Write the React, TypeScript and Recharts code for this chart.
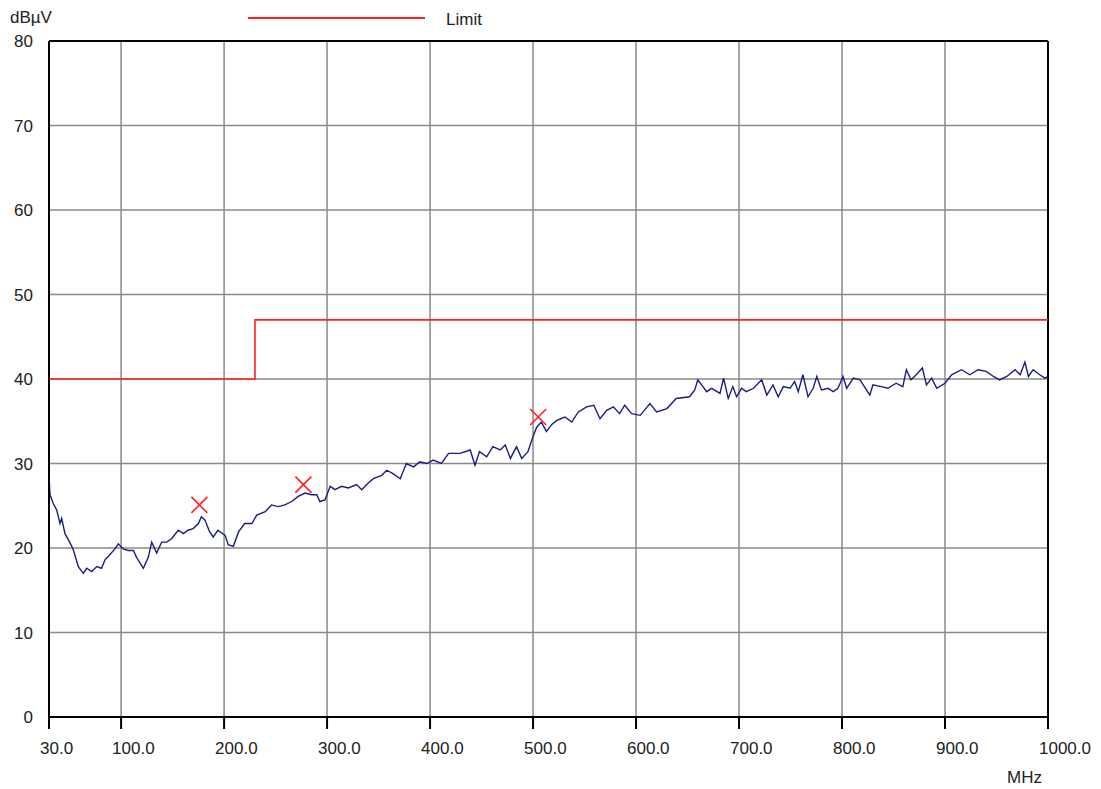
import {
  ComposedChart, Line, Scatter, XAxis, YAxis, CartesianGrid, ReferenceLine,
} from 'recharts'

// measured trace (MHz / dBµV)
const freqs = [
  30, 31, 34, 37.5, 40.7, 42.3, 45.5, 50.4, 53.6, 58.5, 63.3, 66.6, 71.5, 76.3, 81, 84.4, 89, 94, 97.3, 102,
  107, 112, 115, 121.6, 126.4, 129.7, 134.6, 139.4, 144.3, 149, 155.5, 160.4, 165, 170, 175, 178, 181.5, 186, 189.5, 194,
  201, 204, 209, 214, 220, 227, 231.7, 240, 246, 252.6, 259, 265.6, 272, 278.5, 285, 290, 293, 298, 303, 307.7,
  314, 320.6, 328.7, 333.6, 340, 345, 353, 358, 364, 371, 377, 384, 390, 397, 403, 411, 418, 429, 439, 443.6,
  448, 455, 461, 468, 473, 478, 484, 489, 495, 500, 503.5, 508, 513, 518, 523, 531, 537.5, 544, 552, 559,
  565, 571.5, 578, 584, 589, 595.7, 604, 613.5, 620, 630, 639, 652, 657, 660, 665, 668.5, 673.5, 681.5, 685, 689.5,
  694, 697.6, 702.5, 707, 714, 722, 727, 733, 738, 743, 749.5, 754, 757.5, 762, 767, 772, 775.5, 780, 786.5, 791.5,
  796, 801, 804.5, 811, 817.5, 827, 830, 838, 844.5, 852.5, 859, 862.5, 867, 872, 878, 882, 887, 892, 900, 906.4,
  916, 924, 932, 940, 947, 953, 960, 968, 973, 977.6, 981, 985.6, 992, 997, 1000,
]
const levels = [
  28.4, 26.3, 25.3, 24.5, 22.9, 23.5, 21.7, 20.6, 19.8, 17.8, 17.0, 17.6, 17.2, 17.8, 17.6, 18.6, 19.2, 19.9, 20.5, 19.9,
  19.7, 19.7, 18.9, 17.6, 18.9, 20.7, 19.4, 20.7, 20.7, 21.1, 22.1, 21.7, 22.1, 22.3, 22.9, 23.7, 23.3, 21.9, 21.3, 22.1,
  21.5, 20.4, 20.2, 21.9, 22.9, 22.9, 23.9, 24.3, 25.1, 24.9, 25.1, 25.5, 26.1, 26.5, 26.3, 26.3, 25.5, 25.7, 27.3, 26.9,
  27.3, 27.1, 27.5, 26.9, 27.7, 28.2, 28.6, 29.2, 28.8, 28.2, 30.0, 29.6, 30.2, 30.0, 30.4, 30.0, 31.2, 31.2, 31.6, 29.8,
  31.4, 30.8, 32.0, 31.6, 32.2, 30.6, 32.0, 30.6, 31.4, 33.2, 34.3, 34.9, 33.8, 34.6, 35.1, 35.5, 34.9, 36.1, 36.7, 36.9,
  35.3, 36.3, 36.7, 35.9, 36.9, 35.9, 35.7, 37.1, 36.1, 36.5, 37.7, 37.9, 38.7, 39.9, 39.1, 38.5, 38.9, 38.3, 40.1, 37.7,
  39.1, 37.9, 38.9, 38.5, 38.9, 39.9, 38.1, 39.3, 37.9, 39.1, 38.9, 39.7, 38.5, 40.5, 37.9, 38.9, 40.3, 38.7, 38.9, 38.5,
  38.9, 40.3, 38.9, 40.1, 39.9, 38.1, 39.3, 39.1, 38.9, 39.5, 39.1, 41.1, 39.9, 40.5, 41.3, 39.3, 40.1, 38.9, 39.5, 40.5,
  41.1, 40.5, 41.1, 40.9, 40.3, 39.9, 40.3, 41.1, 40.5, 42.0, 40.3, 41.1, 40.5, 40.1, 40.3,
]

const limitFreqs = [30, 230, 230, 1000]
const limitLevels = [40, 40, 47, 47]

const peakFreqs = [176, 277, 505]
const peakLevels = [25.1, 27.5, 35.5]

const xTicks = [30, 100, 200, 300, 400, 500, 600, 700, 800, 900, 1000]
const yTicks = [0, 10, 20, 30, 40, 50, 60, 70, 80]

const trace = freqs.map((f, i) => ({ f, v: levels[i] }))
const limit = limitFreqs.map((f, i) => ({ f, v: limitLevels[i] }))
const peaks = peakFreqs.map((f, i) => ({ f, v: peakLevels[i] }))

const FONT = '"Liberation Sans", Arial, sans-serif'

const XTick = ({ x, y, payload }: any) => (
  <text x={x - 9} y={y} dy={23} fontSize={17} fontFamily={FONT} fill="#222" textAnchor="start">
    {payload.value.toFixed(1)}
  </text>
)

const YTick = ({ y, payload }: any) => (
  <text x={25} y={y} dy={6} fontSize={17} fontFamily={FONT} fill="#222" textAnchor="end">
    {payload.value}
  </text>
)

const Cross = ({ cx, cy }: any) => (
  <g stroke="#ff2020" strokeWidth={1.6}>
    <line x1={cx - 8} y1={cy - 8} x2={cx + 8} y2={cy + 8} />
    <line x1={cx - 8} y1={cy + 8} x2={cx + 8} y2={cy - 8} />
  </g>
)

export default function App() {
  return (
    <div style={{ position: 'relative', width: 1093, height: 781, fontFamily: FONT, color: '#222' }}>
      <div style={{ position: 'absolute', left: 2, top: 0, fontSize: 17 }}>dBµV</div>
      <div style={{ position: 'absolute', left: 240, top: 9, width: 177, height: 2, background: '#ff2020' }} />
      <div style={{ position: 'absolute', left: 438, top: 2, fontSize: 17 }}>Limit</div>
      <div style={{ position: 'absolute', left: 999, top: 760, fontSize: 17 }}>MHz</div>
      <ComposedChart
        width={1093}
        height={781}
        margin={{ top: 33, right: 53, left: 0, bottom: 0 }}
      >
        <CartesianGrid stroke="#8a8a8a" strokeWidth={1.5} />
        <XAxis
          dataKey="f"
          type="number"
          domain={[30, 1000]}
          ticks={xTicks}
          height={72}
          tickSize={12}
          stroke="#000"
          strokeWidth={2}
          tick={<XTick />}
          allowDataOverflow
        />
        <YAxis
          dataKey="v"
          type="number"
          domain={[0, 80]}
          ticks={yTicks}
          width={41}
          tickLine={false}
          stroke="#000"
          strokeWidth={2}
          tick={<YTick />}
        />
        <ReferenceLine y={80} stroke="#000" strokeWidth={2} />
        <ReferenceLine x={1000} stroke="#000" strokeWidth={2} />
        <Line
          data={limit}
          dataKey="v"
          type="linear"
          stroke="#ff2020"
          strokeWidth={1.6}
          dot={false}
          isAnimationActive={false}
        />
        <Line
          data={trace}
          dataKey="v"
          type="linear"
          stroke="#1c1c86"
          strokeWidth={1.4}
          dot={false}
          isAnimationActive={false}
        />
        <Scatter data={peaks} dataKey="v" shape={<Cross />} isAnimationActive={false} />
      </ComposedChart>
    </div>
  )
}
